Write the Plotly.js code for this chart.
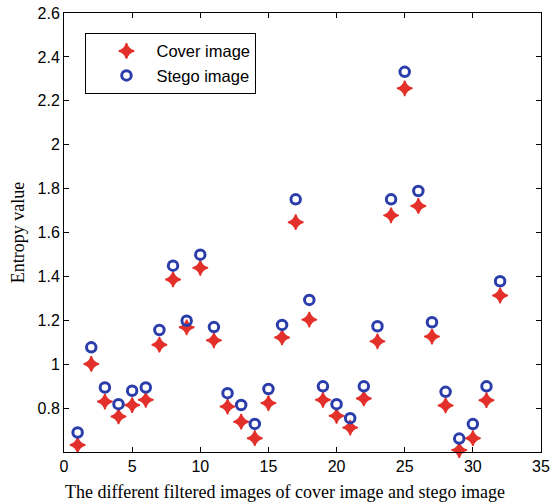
<!DOCTYPE html>
<html>
<head>
<meta charset="utf-8">
<script src="https://cdn.plot.ly/plotly-3.0.1.min.js"></script>
<style>
  html, body { margin: 0; padding: 0; background: #fff; }
  #chart { width: 551px; height: 504px; }
</style>
</head>
<body>
<div id="chart"></div>
<script>
// Index of each filtered image
const imageIndex = [1, 2, 3, 4, 5, 6, 7, 8, 9, 10, 11, 12, 13, 14, 15, 16,
                    17, 18, 19, 20, 21, 22, 23, 24, 25, 26, 27, 28, 29, 30, 31, 32];

// Entropy of the cover images
const coverEntropy = [0.632, 1.001, 0.830, 0.762, 0.814, 0.838, 1.089, 1.386,
                      1.168, 1.439, 1.109, 0.807, 0.738, 0.663, 0.823, 1.122,
                      1.647, 1.203, 0.838, 0.765, 0.711, 0.844, 1.104, 1.678,
                      2.257, 1.721, 1.126, 0.812, 0.609, 0.663, 0.836, 1.313];

// Entropy of the stego images
const stegoEntropy = [0.689, 1.077, 0.894, 0.818, 0.879, 0.894, 1.156, 1.449,
                      1.198, 1.499, 1.169, 0.868, 0.814, 0.728, 0.887, 1.179,
                      1.751, 1.293, 0.899, 0.818, 0.754, 0.899, 1.173, 1.751,
                      2.332, 1.789, 1.191, 0.874, 0.661, 0.727, 0.899, 1.378];

const xTicks = [0, 5, 10, 15, 20, 25, 30, 35];
const yTicks = [0.8, 1, 1.2, 1.4, 1.6, 1.8, 2, 2.2, 2.4, 2.6];

const tickFont = { family: 'Liberation Sans, Arial, sans-serif', size: 16, color: '#000' };
const titleFont = { family: 'Liberation Serif, Times New Roman, serif', size: 18, color: '#000' };

const traces = [
  {
    x: imageIndex, y: coverEntropy, name: 'Cover image',
    type: 'scatter', mode: 'markers', cliponaxis: false,
    marker: { symbol: 'star-diamond', size: 11, color: '#e3302b',
              line: { color: '#e3302b', width: 1.5 } }
  },
  {
    x: imageIndex, y: stegoEntropy, name: 'Stego image',
    type: 'scatter', mode: 'markers', cliponaxis: false,
    marker: { symbol: 'circle-open', size: 9.5, color: '#2a3daa',
              line: { color: '#2a3daa', width: 3 } }
  }
];

const axisCommon = {
  showgrid: false, zeroline: false,
  showline: true, linecolor: '#000', linewidth: 1, mirror: 'ticks',
  ticks: 'inside', ticklen: 5, tickcolor: '#000', tickwidth: 1,
  tickfont: tickFont
};

const layout = {
  width: 551, height: 504,
  margin: { l: 64, r: 10, t: 13, b: 52 },
  paper_bgcolor: '#fff', plot_bgcolor: '#fff',
  showlegend: true,
  legend: {
    x: 0.045, y: 0.955, xanchor: 'left', yanchor: 'top',
    bgcolor: '#fff', bordercolor: '#000', borderwidth: 1,
    font: { family: 'Liberation Sans, Arial, sans-serif', size: 16.5, color: '#000' },
    itemwidth: 50, indentation: 10
  },
  xaxis: Object.assign({}, axisCommon, {
    range: [0, 35], tickvals: xTicks, ticktext: xTicks.map(String)
  }),
  yaxis: Object.assign({}, axisCommon, {
    range: [0.6, 2.6], tickvals: yTicks, ticktext: yTicks.map(String),
    title: { text: 'Entropy value', font: titleFont, standoff: 8 }
  }),
  // x-axis caption, placed slightly left of the plot centre
  annotations: [{
    text: 'The different filtered images of cover image and stego image',
    xref: 'paper', yref: 'paper', x: 0.464, y: 0, yshift: -28,
    xanchor: 'center', yanchor: 'top', showarrow: false, font: titleFont
  }]
};

Plotly.newPlot('chart', traces, layout, { displayModeBar: false, staticPlot: true });
</script>
</body>
</html>
